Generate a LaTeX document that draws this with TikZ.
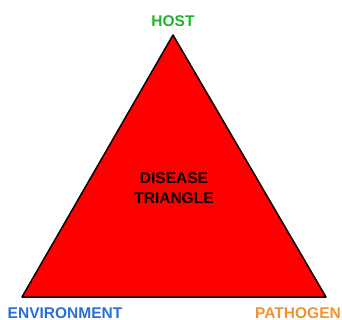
\documentclass[tikz,border=0pt]{standalone}
\usepackage{fontspec}
\setmainfont{Liberation Sans}
\usepackage{xcolor}
\definecolor{hostgreen}{RGB}{30,180,40}
\definecolor{envblue}{RGB}{40,110,215}
\definecolor{pathorange}{RGB}{240,145,45}
\tikzset{
  corner/.style={font=\fontsize{15.5}{19.5}\selectfont\bfseries, inner sep=0pt, anchor=base},
  triface/.style={draw=black, fill=red, line width=1.5pt, line join=round},
}

\begin{document}
\begin{tikzpicture}[x=1pt, y=-1pt]
  \useasboundingbox (0,0) rectangle (342,320);
  \coordinate (apex) at (173,35);
  \coordinate (left) at (22,297);
  \coordinate (right) at (326,297);
  \draw[triface] (apex) -- (left) -- (right) -- cycle;
  \node[corner, text=hostgreen] (host) at (173,27) {HOST};
  \node[corner, text=envblue] (env) at (65,318) {ENVIRONMENT};
  \node[corner, text=pathorange] (path) at (298,318) {PATHOGEN};
  \node[corner, anchor=center, align=center] (title) at (174,188) {DISEASE\\TRIANGLE};
\end{tikzpicture}
\end{document}
